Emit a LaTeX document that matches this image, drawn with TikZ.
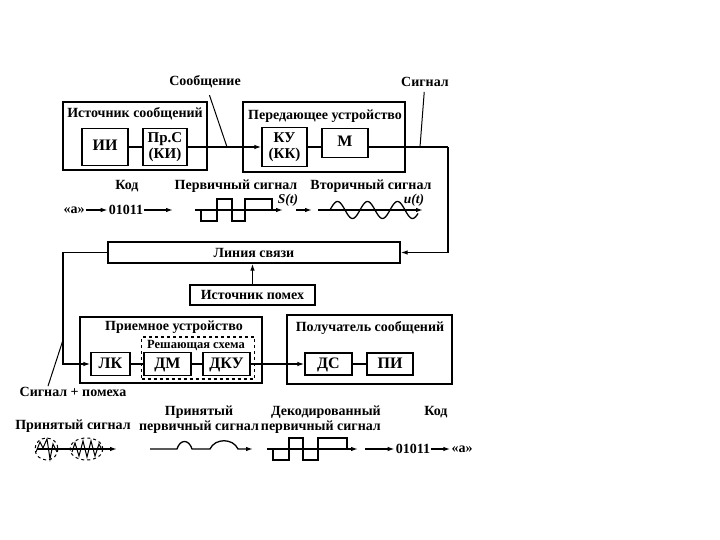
\documentclass[tikz,border=0pt]{standalone}
\usepackage{fontspec}
\setmainfont{Liberation Serif}
\usetikzlibrary{arrows.meta,positioning,calc}
\tikzset{
  px/.style={x=1pt, y=-1pt, font=\fontsize{14}{15}\selectfont\bfseries},
  s box/.style={draw, line width=1.3pt, align=center, inner sep=0pt, font=\fontsize{15}{15.5}\selectfont\bfseries},
  s one/.style={s box, font=\fontsize{16}{16}\selectfont\bfseries, text height=0.8em, text depth=0pt},
  s grp/.style={draw, line width=1.3pt, inner sep=0pt},
  s dec/.style={draw, dashed, line width=1.3pt, inner sep=0pt},
  s txt/.style={inner sep=1pt, align=center},
  s small/.style={s txt, font=\fontsize{12.5}{14}\selectfont\bfseries},
  s lbl/.style={inner sep=1pt, font=\fontsize{13.5}{14}\selectfont\bfseries\itshape},
  s arr/.style={line width=1.3pt, -{Latex[length=7pt,width=4.5pt]}},
  s ln/.style={line width=1.3pt},
  s ptr/.style={line width=1pt},
}
\begin{document}
\begin{tikzpicture}[px]
\useasboundingbox (0,0) rectangle (720,540);
% source and transmitter
\node[s grp, minimum width=144, minimum height=68] (src) at (135,136) {};
\node[s txt] (srcT) at (135,114) {Источник сообщений};
\node[s one, minimum width=46, minimum height=37] (ii) at (105,147) {ИИ};
\node[s box, minimum width=44, minimum height=37] (prs) at (165,147) {Пр.С\\(КИ)};
\node[s grp, minimum width=162, minimum height=70] (tx) at (324,137) {};
\node[s txt] (txT) at (325,116) {Передающее устройство};
\node[s box, minimum width=45, minimum height=39] (ku) at (284.5,147) {КУ\\(КК)};
\node[s one, minimum width=46, minimum height=29] (m) at (345,143) {М};
\coordinate (sig) at (448,147);
\draw[s ln] (ii) -- (prs);
\draw[s arr] (prs) -- (ku);
\draw[s ln] (ku.east) -- (ku.east -| m.west);
\draw[s ln] (m.east |- sig) -- (sig);
% pointers
\node[s txt] (msg) at (205,82) {Сообщение};
\coordinate (msgp) at (227,147);
\draw[s ptr, shorten <=6pt] (msg) -- (msgp);
\node[s txt] (sgl) at (425,82) {Сигнал};
\coordinate (sglp) at (420,147);
\draw[s ptr, shorten <=4pt] (sgl) -- (sglp);
% code row
\node[s txt] (kod1) at (127,186) {Код};
\node[s txt] (pr1) at (236,186) {Первичный сигнал};
\node[s txt] (vt1) at (371,186) {Вторичный сигнал};
\node[s txt] (a1) at (74,210) {«а»};
\node[s txt] (c1) at (126,210) {01011};
\coordinate (c1e) at (173,210);
\draw[s arr] (a1) -- (c1);
\draw[s arr] (c1) -- (c1e);
\draw[s arr] (195,210) -- (283,210);
\draw[s ln] (201,210) -- (201,221) -- (217,221) -- (217,199) -- (232,199) -- (232,221)
  -- (245,221) -- (245,199) -- (272,199) -- (272,210);
\node[s lbl] (st) at (288,200) {S(t)};
\draw[s arr] (296,210) -- (312,210);
\draw[s arr] (318,210) -- (423,210);
\draw[s ln] plot[domain=330:418, samples=80, smooth] (\x, {210-8.5*sin(12*(\x-330))});
\node[s lbl] (ut) at (414,200) {u(t)};
% channel
\node[s box, font=\fontsize{14}{15}\selectfont\bfseries, minimum width=292, minimum height=21] (lnk) at (254,252.5) {Линия связи};
\node[s box, font=\fontsize{14}{15}\selectfont\bfseries, minimum width=125, minimum height=20] (noise) at (252.5,295) {Источник помех};
\draw[s arr] (sig) |- (lnk.east);
\draw[s arr] (noise.north) -- (noise.north |- lnk.south);
\coordinate (lft) at (63,252.5);
% receiver
\node[s grp, minimum width=182, minimum height=66] (rx) at (171,350) {};
\node[s txt] (rxT) at (174,327) {Приемное устройство};
\node[s dec, minimum width=113, minimum height=42] (dec) at (198,358) {};
\node[s small] (decT) at (196,345) {Решающая схема};
\node[s one, minimum width=39, minimum height=23] (lk) at (110.5,364) {ЛК};
\node[s one, minimum width=47, minimum height=23] (dm) at (167.5,364) {ДМ};
\node[s one, minimum width=47, minimum height=23] (dku) at (226.5,364) {ДКУ};
\node[s grp, minimum width=165, minimum height=69] (dst) at (369.5,349.5) {};
\node[s txt] (dstT) at (370,328) {Получатель сообщений};
\node[s one, minimum width=47, minimum height=22] (ds) at (328.5,364) {ДС};
\node[s one, minimum width=46, minimum height=22] (pi) at (390,364) {ПИ};
\draw[s arr] (lnk.west) -- (lft) |- (lk.west);
\draw[s ln] (lk) -- (dm);
\draw[s ln] (dm) -- (dku);
\draw[s arr] (dku) -- (ds);
\draw[s ln] (ds) -- (pi);
\node[s txt] (sn) at (73,392) {Сигнал + помеха};
\coordinate (snp) at (63,340);
\draw[s ptr] ([xshift=-25pt]sn.north) -- (snp);
% received signals
\node[s txt] (r1) at (73,426) {Принятый сигнал};
\draw[s arr] (37,449) -- (117,449);
\draw[s ptr, dashed] (46.5,449) ellipse [x radius=11.5, y radius=11];
\draw[s ptr, dashed] (86.5,449) ellipse [x radius=16.5, y radius=11];
\draw[s ptr] (36,452) -- (40,442) -- (43,448) -- (47,439) -- (50,459) -- (53,444) -- (57,452);
\draw[s ptr] (72,452) -- (75,443) -- (79,456) -- (83,441) -- (87,457) -- (91,441) -- (95,456) -- (99,444) -- (102,450);
\node[s txt] (r2) at (199,419.5) {Принятый\\первичный сигнал};
\draw[s arr] (150,449) -- (177,449) .. controls (180,439) and (189,439) .. (192,449) -- (210,449)
  .. controls (215,438) and (233,438) .. (238,449) -- (253,449);
\node[s txt, anchor=east, align=right] (r3) at (382,420) {Декодированный\\первичный сигнал};
\draw[s arr] (267,449) -- (358,449);
\draw[s ln] (273,449) -- (273,460) -- (289,460) -- (289,438) -- (303,438) -- (303,460) -- (318,460)
  -- (318,438) -- (347,438) -- (347,449);
\coordinate (dq) at (365,449);
\node[s txt] (kod2) at (436,412) {Код};
\node[s txt] (c2) at (413,449) {01011};
\node[s txt] (a2) at (462,449) {«а»};
\draw[s arr] (dq) -- (c2);
\draw[s arr] (c2) -- (a2);
\end{tikzpicture}
\end{document}
